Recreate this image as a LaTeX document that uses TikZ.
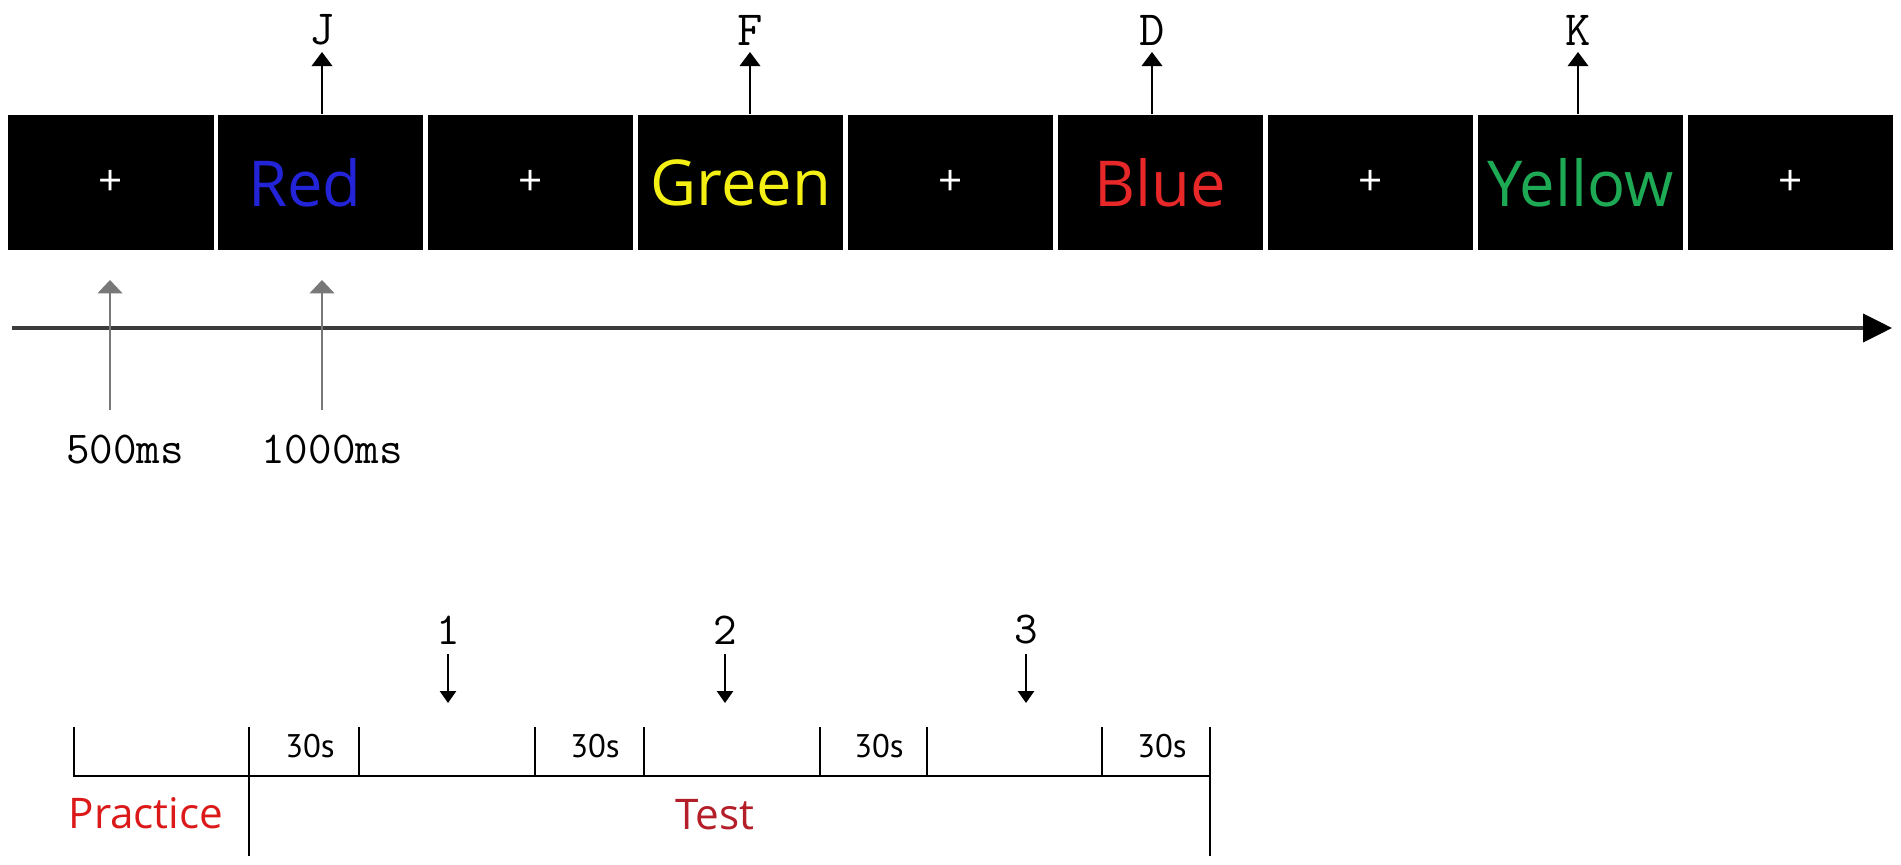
\documentclass[tikz,border=0pt]{standalone}
\usepackage{fontspec}
\setmainfont{Open Sans}
\newfontfamily\wordfont{Open Sans}
\newfontfamily\narrowfont{PT Sans}
\usetikzlibrary{arrows.meta}
\definecolor{wordRed}{RGB}{35,35,215}
\definecolor{wordGreen}{RGB}{245,240,20}
\definecolor{wordBlue}{RGB}{232,40,40}
\definecolor{wordYellow}{RGB}{30,170,85}
\definecolor{practiceRed}{RGB}{220,25,25}
\definecolor{testRed}{RGB}{180,30,40}
\definecolor{axisGray}{RGB}{60,60,60}
\definecolor{tickGray}{RGB}{120,120,120}
\begin{document}
\begin{tikzpicture}[x=0.01cm,y=-0.01cm,
  stim/.style={fill=black, draw=none, minimum width=2.05cm, minimum height=1.35cm, inner sep=0pt,
    font=\wordfont\fontsize{18}{20}\selectfont},
  fixation/.style={stim, text=white, font=\wordfont\fontsize{12}{13}\selectfont},
  keylab/.style={font=\ttfamily\fontsize{14}{16}\selectfont, inner sep=0pt},
  mslab/.style={font=\ttfamily\fontsize{13}{15}\selectfont, inner sep=0pt},
  numlab/.style={font=\ttfamily\fontsize{13}{15}\selectfont, inner sep=0pt},
  seclab/.style={font=\narrowfont\fontsize{9.3}{11}\selectfont, inner sep=0pt},
  phaselab/.style={font=\wordfont\fontsize{12}{14}\selectfont, inner sep=0pt},
  keyarrow/.style={line width=0.7pt, -{Triangle[width=5.8pt,length=4pt]}},
  grayarrow/.style={tickGray, line width=0.6pt, -{Triangle[width=7pt,length=3.8pt]}},
  axisline/.style={axisGray, line width=0.9pt, -{Triangle[width=8pt,length=8.2pt,color=black]}},
  downarrow/.style={line width=0.55pt, -{Triangle[width=4.6pt,length=3.4pt]}},
  tickline/.style={line width=0.6pt, line cap=rect}
]
\useasboundingbox[fill=white] (0,0) rectangle (1901,864);

% stimulus strip
\node[fixation] (b1) at (110.95,182.5) {+};
\node[stim, text=wordRed] (b2) at (320.85,182.5) {Red\kern9pt};
\node[fixation] (b3) at (530.75,182.5) {+};
\node[stim, text=wordGreen] (b4) at (740.65,182.5) {Green};
\node[fixation] (b5) at (950.55,182.5) {+};
\node[stim, text=wordBlue] (b6) at (1160.45,182.5) {Blue};
\node[fixation] (b7) at (1370.35,182.5) {+};
\node[stim, text=wordYellow] (b8) at (1580.25,182.5) {Yellow};
\node[fixation] (b9) at (1790.15,182.5) {+};

% response keys
\node[keylab] (kJ) at (322,30) {J};
\node[keylab] (kF) at (750,30) {F};
\node[keylab] (kD) at (1152,30) {D};
\node[keylab] (kK) at (1578,30) {K};
\coordinate (aJ) at (322,52);
\coordinate (aF) at (750,52);
\coordinate (aD) at (1152,52);
\coordinate (aK) at (1578,52);
\draw[keyarrow] (aJ |- b2.north) -- (aJ);
\draw[keyarrow] (aF |- b4.north) -- (aF);
\draw[keyarrow] (aD |- b6.north) -- (aD);
\draw[keyarrow] (aK |- b8.north) -- (aK);

% time axis
\coordinate (tl0) at (12,328);
\coordinate (tl1) at (1892,328);
\draw[axisline] (tl0) -- (tl1);

% durations
\coordinate (g1a) at (110,410);
\coordinate (g1b) at (110,280);
\coordinate (g2a) at (322,410);
\coordinate (g2b) at (322,280);
\draw[grayarrow] (g1a) -- (g1b);
\draw[grayarrow] (g2a) -- (g2b);
\node[mslab] (t500) at (125,450) {500ms};
\node[mslab] (t1000) at (332,450) {1000ms};

% block design
\coordinate (p0) at (74,776);
\coordinate (p1) at (249,776);
\coordinate (p2) at (359,776);
\coordinate (p3) at (535,776);
\coordinate (p4) at (644,776);
\coordinate (p5) at (820,776);
\coordinate (p6) at (927,776);
\coordinate (p7) at (1102,776);
\coordinate (p8) at (1210,776);
\coordinate (r1) at (249,855);
\coordinate (r8) at (1210,855);
\draw[tickline] (p0) -- (p8);
\draw[tickline] (p0) -- ++(0,-48);
\draw[tickline] (r1) -- ++(0,-127);
\draw[tickline] (p2) -- ++(0,-48);
\draw[tickline] (p3) -- ++(0,-48);
\draw[tickline] (p4) -- ++(0,-48);
\draw[tickline] (p5) -- ++(0,-48);
\draw[tickline] (p6) -- ++(0,-48);
\draw[tickline] (p7) -- ++(0,-48);
\draw[tickline] (r8) -- ++(0,-127);

\node[seclab] (s1) at (310,746) {30s};
\node[seclab] (s2) at (595,746) {30s};
\node[seclab] (s3) at (879,746) {30s};
\node[seclab] (s4) at (1162,746) {30s};

\node[numlab] (n1) at (448,630) {1};
\node[numlab] (n2) at (725,630) {2};
\node[numlab] (n3) at (1026,630) {3};
\coordinate (d1) at (448,703);
\coordinate (d2) at (725,703);
\coordinate (d3) at (1026,703);
\draw[downarrow] (d1 |- 0,654) -- (d1);
\draw[downarrow] (d2 |- 0,654) -- (d2);
\draw[downarrow] (d3 |- 0,654) -- (d3);

\node[phaselab, text=practiceRed] (practice) at (146,813) {Practice};
\node[phaselab, text=testRed] (test) at (715,815) {Test};
\end{tikzpicture}
\end{document}
